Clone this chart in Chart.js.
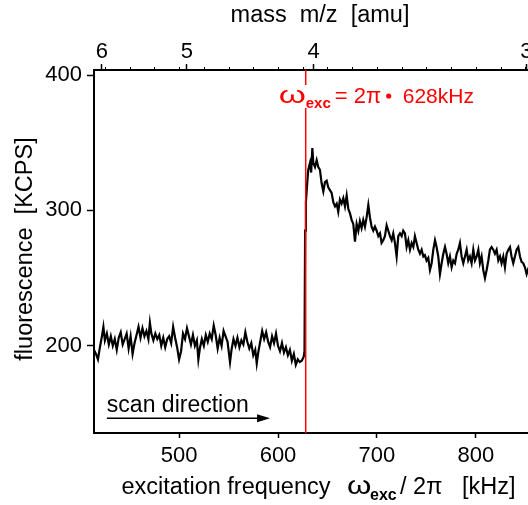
<!DOCTYPE html>
<html>
<head>
<meta charset="utf-8">
<script src="https://cdn.jsdelivr.net/npm/chart.js@4.4.1/dist/chart.umd.min.js"></script>
<style>
  html, body { margin: 0; padding: 0; overflow: hidden; background: #fff; }
  #wrap { width: 528px; height: 505px; overflow: hidden; }
</style>
</head>
<body>
<div id="wrap"><canvas id="scanChart" width="556" height="505"></canvas></div>
<script>
// excitation frequency [kHz] and fluorescence [KCPS]
const freqs = [
  414, 416, 418, 420, 422, 423.5, 425, 427, 429, 431,
  433, 435, 437, 439, 441, 443, 445, 447, 449, 451,
  453, 455, 457, 459, 461, 463, 465, 467, 469, 470.5,
  472, 474, 476, 478, 480, 482, 484, 486, 488, 490,
  492, 494, 496, 498, 500, 502, 504, 506, 508, 510,
  512, 514, 516, 518, 519.5, 521, 523, 525, 527, 529,
  531, 533, 535, 537, 539, 541, 543, 545, 547, 549,
  551.5, 553, 555, 557, 559, 561, 563, 565, 567, 569,
  571, 573, 575, 577, 578.5, 580, 582, 584, 586, 588,
  590, 592, 594, 596, 598, 600, 602, 604, 606, 608,
  610, 612, 614, 616, 618, 620, 622, 624, 626,
  626.8, 627.4, 628.2, 629.5, 630.6, 632.3, 633.5, 634.7, 635.7, 637.4,
  639.1, 640.7, 642.4, 644.1, 645.8, 647.5, 649.2, 650.8, 652.5, 654.2,
  655.9, 657.6, 659.3, 660.9, 662.6, 664.3, 666, 667.7, 669.4, 671.1,
  672.7, 674.4, 676.1, 677.8, 679.5, 681.2, 682.8, 684.5, 686.2, 687.9,
  689.6, 691.3, 692.9, 694.6, 696.3, 698, 699.7, 701.4, 703.1, 704.7,
  706.4, 708.1, 709.8, 711.5, 713.2, 714.9, 716.5, 718.2, 719.9, 721.6,
  723.3, 725, 726.6, 728.3, 730, 731.7, 733.4, 735.1, 736.8, 738.4,
  740.1, 741.8, 743.5, 745.2, 746.9, 748.5, 750.2, 751.9, 753.6, 755.3,
  757, 758.7, 760.3, 762, 763.7, 765.4, 767.1, 768.8, 770.4, 772.1,
  773.8, 775.5, 777.2, 778.9, 780.6, 782.2, 783.9, 785.6, 787.3, 789,
  790.7, 792.3, 794, 795.7, 797.4, 799.1, 800.8, 802.5, 804.1, 805.8,
  807.5, 809.2, 810.9, 812.6, 814.2, 815.9, 817.6, 819.3, 821, 822.7,
  824.4, 826, 827.7, 829.4, 831.1, 832.8, 834.5, 836.1, 837.8, 839.5,
  841.2, 842.9, 844.6, 846.2, 847.9, 849.6, 851.3, 853, 856, 860
];
const fluorescence = [
  197, 194, 190, 199, 207, 214, 204, 209, 201, 207,
  200, 205, 197, 206, 210, 201, 205, 209, 198, 207,
  194, 202, 208, 214, 206, 213, 207, 211, 205, 217,
  209, 204, 209, 205, 208, 200, 206, 199, 205, 207,
  202, 214, 206, 199, 190, 196, 209, 205, 213, 207,
  201, 208, 200, 204, 190, 198, 205, 200, 208, 203,
  209, 205, 215, 208, 198, 206, 200, 211, 207, 203,
  188, 197, 205, 200, 206, 199, 204, 201, 210, 203,
  198, 202, 193, 197, 187, 195, 203, 211, 205, 210,
  203, 199, 207, 202, 209, 200, 196, 202, 195, 199,
  193, 197, 189, 194, 186, 190, 188, 189, 192,
  196, 285, 306, 320, 330, 335, 328, 346, 335, 332,
  337, 332, 330, 320, 314, 321, 322, 317, 315, 313,
  306, 303, 305, 299, 308, 305, 309, 303, 311, 301,
  298, 293, 290, 277, 290, 285, 292, 287, 293, 288,
  295, 304, 295, 288, 285, 288, 285, 281, 283, 276,
  278, 281, 289, 285, 281, 278, 283, 276, 266, 281,
  283, 281, 285, 283, 273, 278, 271, 276, 273, 281,
  276, 271, 268, 271, 266, 267, 263, 265, 256, 261,
  271, 278, 273, 266, 253, 261, 268, 273, 268, 261,
  266, 258, 263, 261, 268, 271, 276, 266, 261, 266,
  271, 263, 266, 261, 271, 263, 266, 271, 261, 266,
  256, 250, 256, 263, 271, 273, 271, 268, 271, 263,
  266, 261, 266, 258, 268, 271, 273, 266, 261, 266,
  271, 273, 266, 262, 261, 258, 253, 257, 262, 260
];

const freqTicks = [500, 600, 700, 800];
const fluorTicks = [200, 300, 400];
const massTicks = [6, 5, 4, 3];
const massTickFreqs = [422, 508, 636, 851];   // where the mass labels sit on the frequency scale
const topMinorTicks = [425, 450, 475, 500, 525, 550, 575, 600, 625, 650, 675, 700, 725, 750, 775, 800, 825, 850, 875];
const excFreq = 628;

const FONT = '"Liberation Sans", Arial, Helvetica, sans-serif';

function setFont(ctx, size, bold) {
  ctx.font = (bold ? 'bold ' : '') + size + 'px ' + FONT;
}

// omega is drawn a bit wider, like the original symbol font
function drawOmega(ctx, x, y, size, stretch) {
  setFont(ctx, size);
  ctx.save();
  ctx.translate(x, y);
  ctx.scale(stretch, 1);
  ctx.fillText('ω', 0, 0);
  ctx.restore();
  return x + ctx.measureText('ω').width * stretch;
}

const annotations = {
  id: 'annotations',
  afterDatasetsDraw(chart) {
    const { ctx, chartArea: a, scales: { x, y } } = chart;
    ctx.save();

    // excitation line
    const xr = x.getPixelForValue(excFreq);
    ctx.strokeStyle = '#ff0000';
    ctx.lineWidth = 1.5;
    ctx.beginPath();
    ctx.moveTo(xr, a.top);
    ctx.lineTo(xr, a.bottom);
    ctx.stroke();

    // its label, on white
    ctx.fillStyle = '#fff';
    ctx.fillRect(xr - 30, 85, 202, 23);
    ctx.fillStyle = '#ff0000';
    ctx.textAlign = 'left';
    ctx.textBaseline = 'alphabetic';
    drawOmega(ctx, xr - 27, 103, 24, 1.45);
    setFont(ctx, 15, true);
    ctx.fillText('exc', xr, 108);
    setFont(ctx, 22);
    ctx.fillText('= 2π', xr + 29, 103);
    ctx.beginPath();
    ctx.arc(xr + 83, 96, 2.6, 0, Math.PI * 2);
    ctx.fill();
    setFont(ctx, 21);
    ctx.fillText('628kHz', xr + 97, 103);

    // scan direction arrow
    const sx0 = x.getPixelForValue(427), sx1 = x.getPixelForValue(592);
    const sy = y.getPixelForValue(146.5);
    ctx.fillStyle = '#000';
    ctx.strokeStyle = '#000';
    ctx.lineWidth = 1.5;
    setFont(ctx, 23);
    ctx.fillText('scan direction', sx0, y.getPixelForValue(150.9));
    ctx.beginPath();
    ctx.moveTo(sx0, sy);
    ctx.lineTo(sx1 - 10, sy);
    ctx.stroke();
    ctx.beginPath();
    ctx.moveTo(sx1, sy);
    ctx.lineTo(sx1 - 13, sy - 4);
    ctx.lineTo(sx1 - 13, sy + 4);
    ctx.closePath();
    ctx.fill();

    ctx.restore();
  },
  afterDraw(chart) {
    const { ctx, chartArea: a, scales: { x2 } } = chart;
    ctx.save();

    // small ticks on the top axis
    ctx.strokeStyle = '#000';
    ctx.lineWidth = 1;
    topMinorTicks.forEach(f => {
      const px = Math.round(x2.getPixelForValue(f)) + 0.5;
      ctx.beginPath();
      ctx.moveTo(px, a.top);
      ctx.lineTo(px, a.top - 3);
      ctx.stroke();
    });

    ctx.fillStyle = '#000';
    ctx.textBaseline = 'alphabetic';

    // top title
    ctx.textAlign = 'center';
    setFont(ctx, 23.5);
    ctx.fillText('mass  m/z  [amu]', 320, 22);

    // y title
    ctx.save();
    ctx.translate(31.5, 249);
    ctx.rotate(-Math.PI / 2);
    ctx.fillText('fluorescence  [KCPS]', 0, 0);
    ctx.restore();

    // bottom title with subscript
    ctx.textAlign = 'left';
    ctx.fillText('excitation frequency', 121.5, 494);
    drawOmega(ctx, 347, 494, 26, 1.2);
    setFont(ctx, 16, true);
    ctx.fillText('exc', 370, 500);
    setFont(ctx, 23.5);
    ctx.fillText('/ 2π', 400, 494);
    ctx.fillText('[kHz]', 462, 494);

    ctx.restore();
  }
};

const tickFont = { family: FONT, size: 22 };

new Chart(document.getElementById('scanChart'), {
  type: 'line',
  data: {
    datasets: [{
      data: freqs.map((f, i) => ({ x: f, y: fluorescence[i] })),
      borderColor: '#000',
      borderWidth: 2.2,
      pointRadius: 0,
      tension: 0,
      fill: false,
      xAxisID: 'x',
      yAxisID: 'y'
    }]
  },
  options: {
    responsive: false,
    animation: false,
    layout: { padding: { left: 0, right: 1, top: 0, bottom: 0 } },
    plugins: { legend: { display: false }, tooltip: { enabled: false } },
    scales: {
      x: {
        type: 'linear', position: 'bottom', min: 414, max: 880,
        afterBuildTicks: s => { s.ticks = freqTicks.map(v => ({ value: v })); },
        afterFit: s => { s.height = 72; },
        grid: { drawOnChartArea: false, tickLength: 5, color: '#000', tickWidth: 1.5 },
        border: { color: '#000', width: 2 },
        ticks: { font: tickFont, color: '#000', padding: 5, maxRotation: 0, autoSkip: false }
      },
      x2: {
        type: 'linear', position: 'top', min: 414, max: 880,
        afterBuildTicks: s => { s.ticks = massTickFreqs.map(v => ({ value: v })); },
        afterFit: s => { s.height = 70; },
        grid: { drawOnChartArea: false, tickLength: 6, color: '#000', tickWidth: 1.5 },
        border: { color: '#000', width: 2 },
        ticks: {
          font: tickFont, color: '#000', padding: -1, maxRotation: 0, autoSkip: false,
          callback: (v, i) => massTicks[i]
        }
      },
      y: {
        type: 'linear', position: 'left', min: 135.6, max: 403.7,
        afterBuildTicks: s => { s.ticks = fluorTicks.map(v => ({ value: v })); },
        afterFit: s => { s.width = 94; },
        grid: { drawOnChartArea: false, tickLength: 7, color: '#000', tickWidth: 1.5 },
        border: { color: '#000', width: 2 },
        ticks: { font: tickFont, color: '#000', padding: 5 }
      }
    }
  },
  plugins: [annotations]
});
</script>
</body>
</html>
